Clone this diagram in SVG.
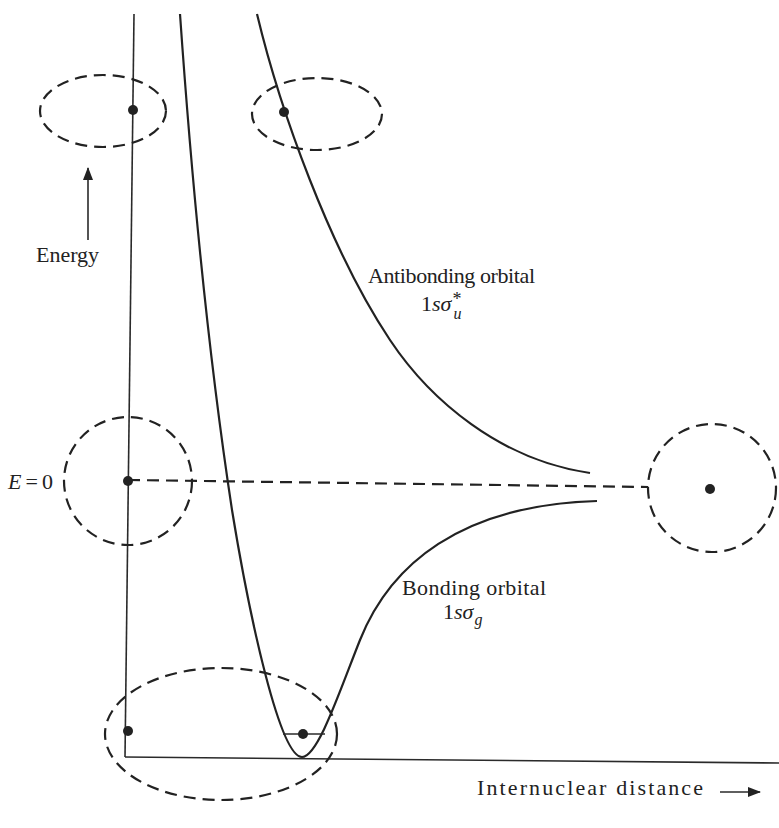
<svg xmlns="http://www.w3.org/2000/svg" width="779" height="828" viewBox="0 0 779 828">
<style>
.ax{fill:none;stroke:#2a2a2a;stroke-width:1.6}
.cv{fill:none;stroke:#222;stroke-width:2.2}
.ds{fill:none;stroke:#222;stroke-width:2.2;stroke-dasharray:12 7}
.dot{fill:#222}
text{font-family:"Liberation Serif","Times New Roman",serif;fill:#222;font-size:22px}
.it{font-style:italic}
.sub{font-size:16px}
.sup{font-size:18px}
</style>
<defs>
<marker id="ah" markerWidth="13" markerHeight="10" refX="12" refY="5" orient="auto" markerUnits="userSpaceOnUse">
<path d="M0,0 L13,5 L0,10 Z" fill="#222"/>
</marker>
</defs>
<rect width="779" height="828" fill="#fff"/>
<g id="connectors">
<path id="energy-axis" class="ax" d="M134,14 L125,757"/>
<path id="distance-axis" class="ax" d="M125,757 L779,763"/>
<path id="bonding-curve" class="cv" d="M180,14 Q200,300 232,510 C250,620 280,757 302,757 C318,757 340,690 360,640 C390,565 460,505 597,501"/>
<path id="antibonding-curve" class="cv" d="M257,14 C280,110 330,250 390,340 C430,400 500,460 590,473"/>
<path id="e0-line" class="ds" d="M128,480 L648,487"/>
<path id="vib-level" class="ax" d="M283,734 L325,734"/>
<path id="energy-arrow" class="ax" d="M88,240 L88,168" marker-end="url(#ah)"/>
<path id="distance-arrow" class="ax" d="M720,792 L760,792" marker-end="url(#ah)"/>
</g>
<g id="node-top-left">
<ellipse class="ds" cx="103" cy="111" rx="63" ry="36"/>
<circle class="dot" cx="133" cy="110" r="5"/>
</g>
<g id="node-top-right">
<ellipse class="ds" cx="317" cy="114" rx="65" ry="36"/>
<circle class="dot" cx="284" cy="112" r="5"/>
</g>
<g id="node-e0-left">
<circle class="ds" cx="128" cy="481" r="64"/>
<circle class="dot" cx="128" cy="481" r="5"/>
</g>
<g id="node-e0-right">
<circle class="ds" cx="712" cy="488" r="64"/>
<circle class="dot" cx="710" cy="489" r="5"/>
</g>
<g id="node-bottom">
<ellipse class="ds" cx="221" cy="734" rx="116" ry="66"/>
<circle class="dot" cx="128" cy="731" r="5"/>
<circle class="dot" cx="303" cy="734" r="5"/>
</g>
<g id="labels">
<text x="36" y="262" textLength="63">Energy</text>
<text x="8" y="489" textLength="45"><tspan class="it">E</tspan>=0</text>
<text x="368" y="283" textLength="167">Antibonding orbital</text>
<text x="421" y="311">1<tspan class="it">sσ</tspan><tspan class="sup" dx="1" dy="-6">*</tspan><tspan class="it sub" dx="-8" dy="14">u</tspan></text>
<text x="402" y="595" textLength="144">Bonding orbital</text>
<text x="443" y="619">1<tspan class="it">sσ</tspan><tspan class="it sub" dx="1" dy="6">g</tspan></text>
<text x="477" y="795" textLength="226">Internuclear distance</text>
</g>
</svg>
